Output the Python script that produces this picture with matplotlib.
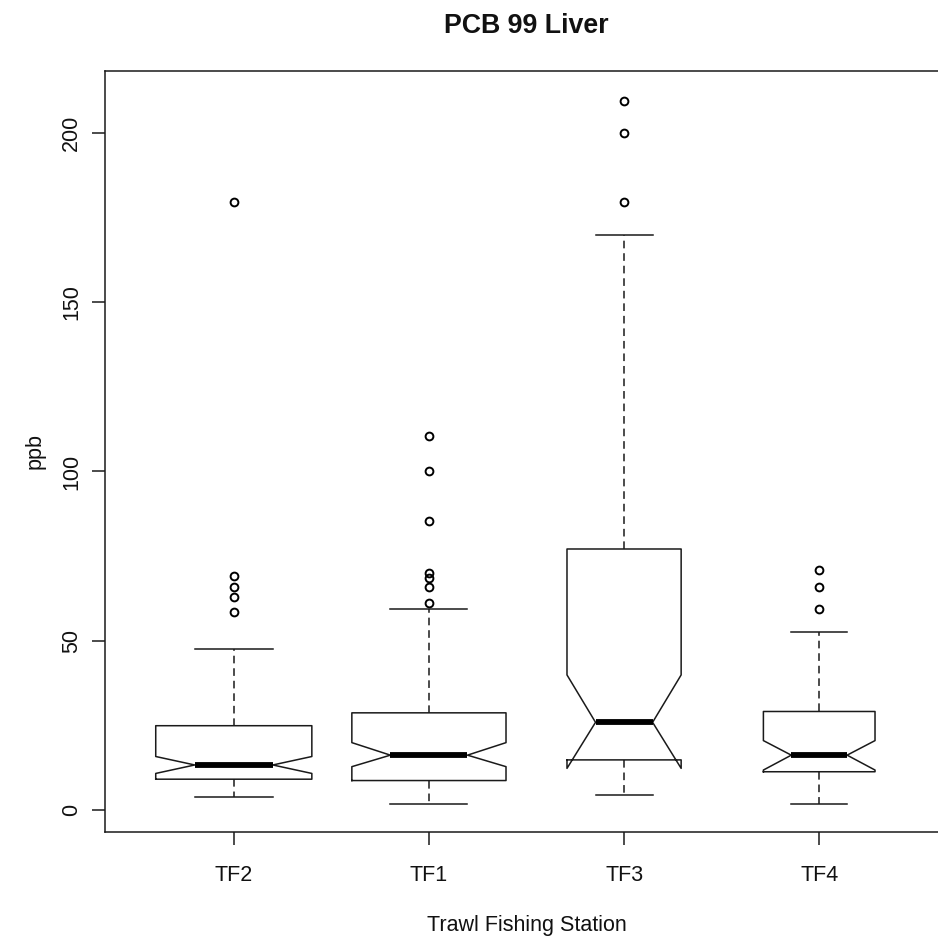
import matplotlib
matplotlib.use("Agg")
import matplotlib.pyplot as plt

# values (ppb)
stations = ["TF2", "TF1", "TF3", "TF4"]
whisker_low = [3.75, 1.8, 4.4, 1.8]
q1 = [9.1, 8.7, 14.8, 11.3]
notch_low = [10.8, 12.8, 12.3, 11.8]
medians = [13.3, 16.2, 25.9, 16.2]
notch_high = [15.8, 19.9, 39.9, 20.5]
q3 = [24.9, 28.7, 77.1, 29.1]
whisker_high = [47.6, 59.3, 170.0, 52.5]
outliers = [
    [58.5, 63.0, 66.0, 69.0, 179.5],
    [61.0, 66.0, 68.5, 70.0, 85.5, 100.0, 110.5],
    [179.5, 200.0, 209.5],
    [59.3, 66.0, 71.0],
]
box_widths = [0.80, 0.79, 0.585, 0.572]

FONT = "Liberation Sans"
LINE = "#1a1a1a"
W, H = 938, 939

plt.rcParams["font.family"] = [FONT, "DejaVu Sans"]

stats = []
for i, name in enumerate(stations):
    stats.append({
        "label": name,
        "whislo": whisker_low[i],
        "q1": q1[i],
        "cilo": notch_low[i],
        "med": medians[i],
        "cihi": notch_high[i],
        "q3": q3[i],
        "whishi": whisker_high[i],
        "fliers": outliers[i],
    })

fig = plt.figure(figsize=(W / 100, H / 100), dpi=100)
fig.patch.set_facecolor("white")
ax = fig.add_axes([105 / W, 1 - 832 / H, 843 / W, 761 / H])

ax.bxp(
    stats,
    positions=range(1, len(stations) + 1),
    widths=box_widths,
    shownotches=True,
    boxprops=dict(color=LINE, linewidth=1.1),
    whiskerprops=dict(color=LINE, linewidth=1.1, linestyle=(0, (5, 3.2))),
    capprops=dict(color=LINE, linewidth=1.1),
    medianprops=dict(color="black", linewidth=4.2, solid_capstyle="butt"),
    flierprops=dict(marker="o", markersize=5.6, markerfacecolor="none",
                    markeredgecolor="black", markeredgewidth=1.4, linestyle="none"),
)

ax.set_xlim(0.34, 4.66)
ax.set_ylim(-6.5, 218.3)
ax.set_yticks([0, 50, 100, 150, 200])
ax.set_xticks(range(1, len(stations) + 1))
ax.set_xticklabels(stations)

for side in ["top", "bottom", "left", "right"]:
    ax.spines[side].set_linewidth(1.1)
    ax.spines[side].set_color(LINE)

ax.tick_params(axis="both", length=9.4, width=1.1, color=LINE,
               labelsize=15.5, labelcolor="#111111")
ax.tick_params(axis="x", pad=14.5)
ax.tick_params(axis="y", pad=7)
plt.setp(ax.get_yticklabels(), rotation=90, va="center")

fig.text(526 / W, 1 - 33 / H, "PCB 99 Liver", ha="center", va="baseline",
         fontsize=19.3, fontweight="bold", color="#111111")
fig.text(527 / W, 1 - 931 / H, "Trawl Fishing Station", ha="center",
         va="baseline", fontsize=15.5, color="#111111")
fig.text(35 / W, 1 - 451 / H, "ppb", ha="center", va="center",
         rotation=90, fontsize=15.5, color="#111111")

fig.savefig("out.png", dpi=100, facecolor="white")
plt.close(fig)
